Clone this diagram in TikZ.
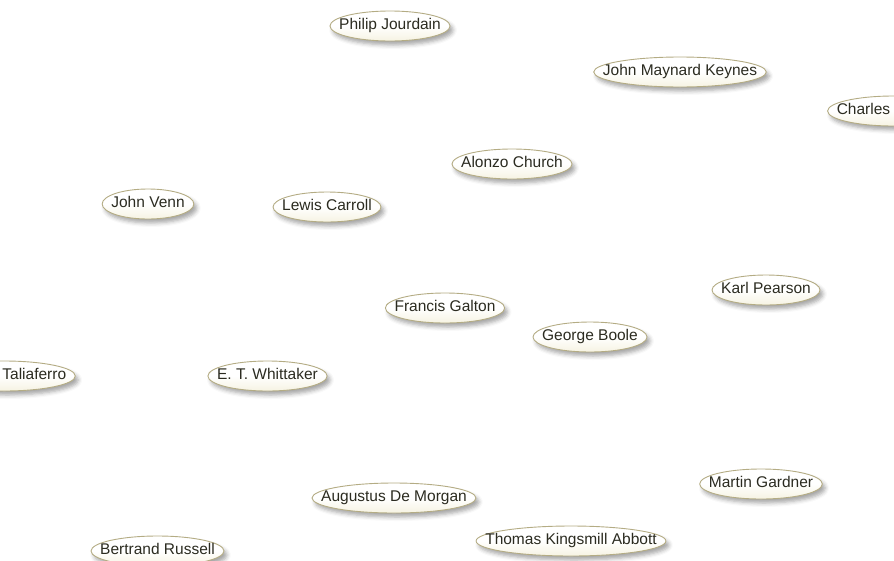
\documentclass[tikz,border=0pt]{standalone}
\usepackage{fontspec}
\setmainfont{Liberation Sans}
\usetikzlibrary{calc,shadows.blur}
\pgfdeclarelayer{background}
\pgfsetlayers{background,main}
\definecolor{rim}{HTML}{B4AC84}
\definecolor{cream}{HTML}{F6F3E2}
\definecolor{ink}{HTML}{2B2B20}
\tikzset{
  lbl/.style={inner sep=0pt, text height=10pt, text depth=3.5pt, text=ink,
    font=\fontsize{15.5}{18}\selectfont},
  bubble/.style={draw=rim, line width=0.9pt, top color=white, bottom color=cream,
    middle color=white,
    blur shadow={shadow xshift=3pt, shadow yshift=-4pt, shadow blur radius=4pt, shadow opacity=35}}
}
\newcommand\person[4]{%
  \node[lbl] (#1) at (#2,#3+1) {#4};
  \begin{pgfonlayer}{background}
    \path[bubble] let \p1=($(#1.east)-(#1.west)$) in
      (#1.center) ellipse ({0.5*\x1+9pt} and 15pt);
  \end{pgfonlayer}}
\begin{document}
\begin{tikzpicture}[x=1pt,y=-1pt]
\useasboundingbox (0,0) rectangle (894,560);
\person{jourdain}{390}{25}{Philip Jourdain}
\person{keynes}{680}{71}{John Maynard Keynes}
\person{charles}{893.5}{110}{Charles\rule{60pt}{0pt}}
\person{church}{512}{163}{Alonzo Church}
\person{venn}{148}{203}{John Venn}
\person{carroll}{327}{206}{Lewis Carroll}
\person{pearson}{766}{289}{Karl Pearson}
\person{galton}{445}{307}{Francis Galton}
\person{boole}{590}{336}{George Boole}
\person{taliaferro}{4.25}{375}{\rule{60pt}{0pt}Taliaferro}
\person{whittaker}{267.5}{375}{E. T. Whittaker}
\person{demorgan}{394}{497}{Augustus De Morgan}
\person{gardner}{761}{483}{Martin Gardner}
\person{abbott}{571}{540}{Thomas Kingsmill Abbott}
\person{russell}{157.5}{550}{Bertrand Russell}
\end{tikzpicture}
\end{document}
